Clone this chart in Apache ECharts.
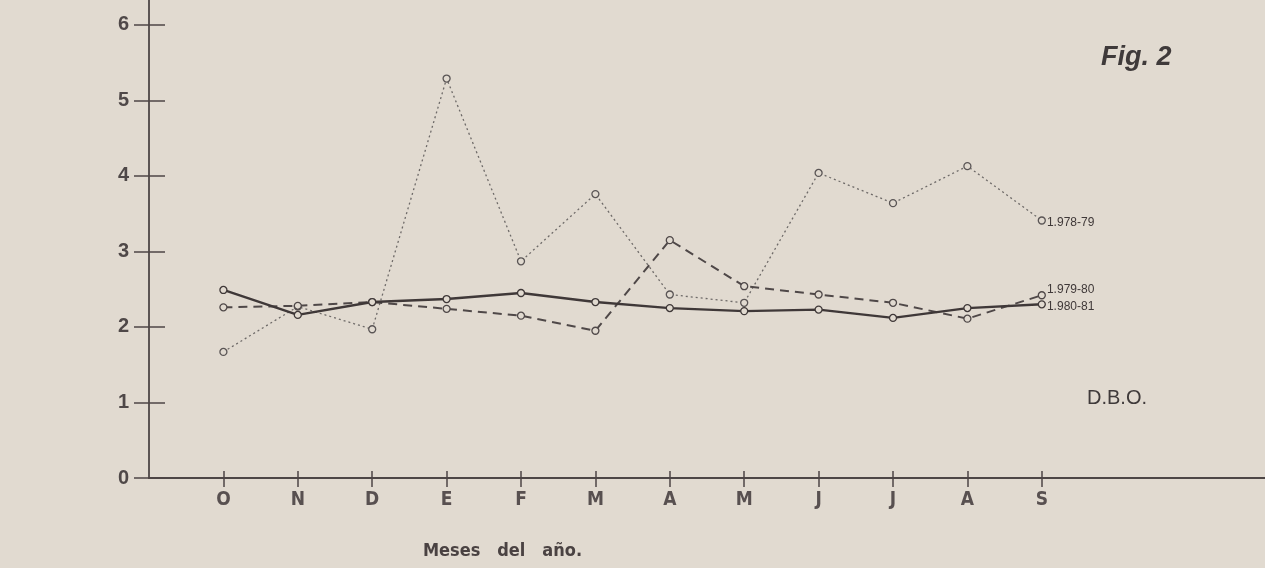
<!DOCTYPE html>
<html>
<head>
<meta charset="utf-8">
<script src="https://cdn.jsdelivr.net/npm/echarts@6/dist/echarts.min.js"></script>
<style>
html,body{margin:0;padding:0;background:#e1dad0;}
#c{width:1265px;height:568px;}
</style>
</head>
<body>
<div id="c"></div>
<script>
const months = ['O','N','D','E','F','M','A','M','J','J','A','S'];
const yTicks = [0,1,2,3,4,5,6];
const seriesNames = ['1.978-79','1.979-80','1.980-81'];
const s1978 = [1.67, 2.27, 1.97, 5.29, 2.87, 3.76, 2.43, 2.32, 4.04, 3.64, 4.13, 3.41];
const s1979 = [2.26, 2.28, 2.33, 2.24, 2.15, 1.95, 3.15, 2.54, 2.43, 2.32, 2.11, 2.42];
const s1980 = [2.49, 2.16, 2.33, 2.37, 2.45, 2.33, 2.25, 2.21, 2.23, 2.12, 2.25, 2.30];

const monthIdx = months.map((m,i)=>i);
const ink = '#4d4646';
const bg = '#e1dad0';

function build(vals, name, labelOffset){
  return vals.map((v,i)=>{
    if (i === vals.length-1) {
      return {value:[i,v], label:{show:true, position:'right', distance:1, offset:labelOffset,
        formatter:name, fontFamily:'Liberation Sans, Arial, sans-serif', fontSize:12, color:'#3f3838'}};
    }
    return [i,v];
  });
}

const chart = echarts.init(document.getElementById('c'), null, {renderer:'canvas'});
const axisFont = 'Liberation Sans, Arial, Helvetica, sans-serif';
const condFont = 'DejaVu Sans Condensed, Liberation Sans Narrow, sans-serif';
chart.setOption({
  backgroundColor:bg,
  animation:false,
  grid:{left:149, top:0, width:1125, height:478, containLabel:false},
  xAxis:[{
    type:'value', min:-1, max:14, interval:1,
    axisLine:{show:true, onZero:false, lineStyle:{color:ink, width:2}},
    axisTick:{show:true, inside:false, length:9, customValues:monthIdx, lineStyle:{color:ink, width:1.5}},
    axisLabel:{show:true, customValues:monthIdx, margin:13, formatter:v=>months[v]||'',
      fontFamily:condFont, fontSize:19, fontWeight:'bold', color:'#585050'},
    splitLine:{show:false}
  },{
    type:'value', min:-1, max:14, interval:1, position:'bottom', offset:0,
    axisLine:{show:false, onZero:false},
    axisTick:{show:true, inside:true, length:7, customValues:monthIdx, lineStyle:{color:ink, width:1.5}},
    axisLabel:{show:false},
    splitLine:{show:false}
  }],
  yAxis:[{
    type:'value', min:0, max:6.33, interval:1,
    axisLine:{show:true, onZero:false, lineStyle:{color:ink, width:1.8}},
    axisTick:{show:true, inside:false, length:15, customValues:yTicks, lineStyle:{color:ink, width:1.5}},
    axisLabel:{show:true, customValues:yTicks, margin:20, fontFamily:axisFont, fontSize:20, fontWeight:'bold', color:'#4f4848'},
    splitLine:{show:false}
  },{
    type:'value', min:0, max:6.33, interval:1, position:'left', offset:0,
    axisLine:{show:false, onZero:false},
    axisTick:{show:true, inside:true, length:16, customValues:yTicks, lineStyle:{color:ink, width:1.5}},
    axisLabel:{show:false},
    splitLine:{show:false}
  }],
  series:[
    {name:seriesNames[0], type:'line', data:build(s1978, seriesNames[0], [0,2]),
      symbol:'circle', symbolSize:7,
      lineStyle:{color:'#6e6a68', width:1.3, type:[2,3]},
      itemStyle:{color:bg, borderColor:'#5a5555', borderWidth:1.3}, z:3},
    {name:seriesNames[1], type:'line', data:build(s1979, seriesNames[1], [0,-6]),
      symbol:'circle', symbolSize:7,
      lineStyle:{color:'#4f4848', width:2, type:[9,6]},
      itemStyle:{color:bg, borderColor:'#4f4848', borderWidth:1.3}, z:4},
    {name:seriesNames[2], type:'line', data:build(s1980, seriesNames[2], [0,2]),
      symbol:'circle', symbolSize:7,
      lineStyle:{color:'#3f3838', width:2.4},
      itemStyle:{color:bg, borderColor:'#3f3838', borderWidth:1.3}, z:5}
  ],
  graphic:[
    {type:'text', left:1101, top:44, style:{text:'Fig. 2', font:'italic bold 27px Liberation Sans, Arial, sans-serif', fill:'#3f3a3a'}},
    {type:'text', left:1087, top:388, style:{text:'D.B.O.', font:'20px Liberation Sans, Arial, sans-serif', fill:'#3f3a3a'}},
    {type:'text', left:423, top:542, style:{text:'Meses   del   año.', font:'bold 18px DejaVu Sans Condensed, Liberation Sans Narrow, sans-serif', fill:'#4a4242'}}
  ]
});
</script>
</body>
</html>
